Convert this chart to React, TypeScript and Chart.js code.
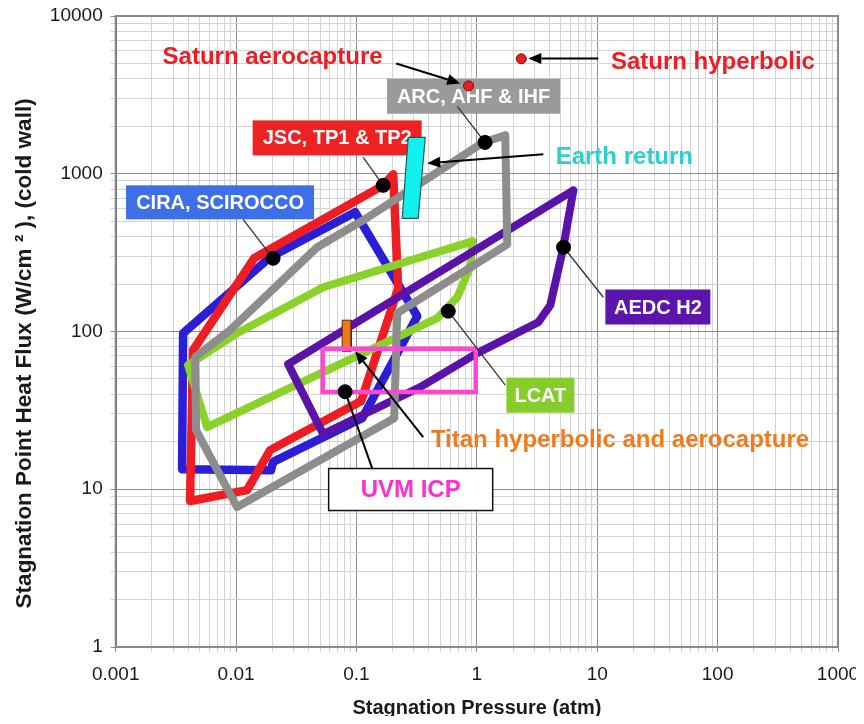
import React, { useEffect, useRef } from 'react';
import { Chart, registerables } from 'chart.js';

Chart.register(...registerables);

const FONT = '"Liberation Sans", Arial, Helvetica, sans-serif';

// Axis decades and their labels
const xTickLabels = ['0.001', '0.01', '0.1', '1', '10', '100', '1000'];
const yTickLabels = ['1', '10', '100', '1000', '10000'];
const xDecadeExp = [-3, -2, -1, 0, 1, 2];
const yDecadeExp = [0, 1, 2, 3];

// Facility envelopes: stagnation pressure (atm) / cold-wall heat flux (W/cm²)
const ciraP = [0.00363, 0.00356, 0.0195, 0.0203, 0.1115, 0.32, 0.0975, 0.0192, 0.00363];
const ciraQ = [97.5, 13.4, 13.2, 14.9, 28.2, 125, 570, 296, 97.5];

const jscP = [0.2019, 0.2221, 0.1094, 0.01917, 0.01234, 0.004146, 0.004392, 0.01411, 0.1667, 0.2019];
const jscQ = [991, 188, 36.2, 17.7, 9.88, 8.42, 76.1, 291, 844, 991];

const arcP = [1.722, 1.789, 0.218, 0.2058, 0.01019, 0.004651, 0.004563, 0.00892, 0.04714, 0.1137, 1.13, 1.722];
const arcQ = [1751, 357, 130.6, 28.2, 7.71, 23.7, 68.8, 101.9, 342, 507, 1581, 1751];

const aedcP = [6.332, 5.226, 4.075, 3.239, 1.008, 0.3385, 0.05288, 0.02706, 6.332];
const aedcQ = [785, 342, 146.7, 114.5, 72.9, 44.4, 22.4, 62.1, 785];

const lcatP = [0.9157, 0.8813, 0.6875, 0.4687, 0.00574, 0.00399, 0.01019, 0.05288, 0.9157];
const lcatQ = [373, 255.4, 164.9, 121.4, 24.8, 61.2, 97.5, 190.8, 373];

// Mission regions
const earthP = [0.269, 0.3725, 0.3257, 0.2399, 0.269];
const earthQ = [1700, 1700, 522, 522, 1700];

const titanP = [0.0761, 0.0904, 0.0904, 0.0761, 0.0761];
const titanQ = [117.9, 117.9, 75, 75, 117.9];

const uvmP = [0.0524, 0.979, 0.979, 0.0524, 0.0524];
const uvmQ = [77.8, 77.8, 41.3, 41.3, 77.8];

// Reference operating points for each facility (CIRA, JSC, ARC, AEDC, LCAT, UVM)
const markerP = [0.0203, 0.1667, 1.17, 5.25, 0.5785, 0.0805];
const markerQ = [291, 844, 1580, 342, 134.5, 41.5];

// Saturn entries (aerocapture, hyperbolic)
const saturnP = [0.853, 2.339];
const saturnQ = [3603, 5356];

const pts = (p: number[], q: number[]) => p.map((v, i) => ({ x: v, y: q[i] }));

const decadeTicks = (exps: number[]) => {
  const out: number[] = [];
  for (const e of exps) {
    for (let k = 1; k <= 9; k++) out.push(parseFloat((k * Math.pow(10, e)).toPrecision(12)));
  }
  out.push(parseFloat(Math.pow(10, exps[exps.length - 1] + 1).toPrecision(12)));
  return out;
};

const isMajor = (v: number) => {
  const l = Math.log10(v);
  return Math.abs(l - Math.round(l)) < 1e-9;
};

// Callout labels placed in data coordinates
const boxLabels = [
  { text: 'CIRA, SCIROCCO', p: 0.00736, q: 659, w: 188, h: 34, fill: '#3e6fe6', color: '#ffffff', size: 20 },
  { text: 'JSC, TP1 & TP2', p: 0.0691, q: 1688, w: 169, h: 35, fill: '#ee2222', color: '#ffffff', size: 20 },
  { text: 'ARC, AHF & IHF', p: 0.939, q: 3100, w: 173, h: 35, fill: '#9a9a9a', color: '#ffffff', size: 20 },
  { text: 'AEDC H2', p: 31.9, q: 143, w: 105, h: 35, fill: '#5c14ac', color: '#ffffff', size: 20 },
  { text: 'LCAT', p: 3.37, q: 39.5, w: 68, h: 35, fill: '#86cc2a', color: '#ffffff', size: 20 },
  { text: 'UVM ICP', p: 0.282, q: 9.96, w: 164, h: 42, fill: '#ffffff', stroke: '#111111', color: '#ff2fcf', size: 24 },
];

const textLabels = [
  { text: 'Saturn aerocapture', p: 0.0201, q: 5483, color: '#ee1c24' },
  { text: 'Saturn hyperbolic', p: 91.4, q: 5098, color: '#ee1c24' },
  { text: 'Earth return', p: 16.8, q: 1276, color: '#2ccfd0' },
  { text: 'Titan hyperbolic and aerocapture', p: 15.47, q: 20.5, color: '#f07a1e' },
];

const leaders = [
  { from: [0.01144, 514], to: [0.0203, 291], width: 1.3, color: '#333333' },
  { from: [0.1137, 1270], to: [0.1667, 844], width: 1.3, color: '#333333' },
  { from: [0.6875, 2672], to: [1.17, 1580], width: 1.3, color: '#333333' },
  { from: [11.24, 164.9], to: [5.25, 342], width: 1.3, color: '#333333' },
  { from: [1.722, 45.7], to: [0.5785, 134.5], width: 1.3, color: '#333333' },
  { from: [0.1351, 13.56], to: [0.0805, 41.5], width: 2, color: '#000000' },
];

const arrows = [
  { from: [0.2138, 5003], to: [0.7278, 3737] },
  { from: [10.21, 5380], to: [2.675, 5380] },
  { from: [3.565, 1327], to: [0.387, 1164] },
  { from: [0.3584, 21.4], to: [0.0975, 75] },
];

const annotate = {
  id: 'annotate',
  beforeDatasetsDraw(chart: any) {
    const { ctx, chartArea: a, scales } = chart;
    const x = scales.x;
    const y = scales.y;
    ctx.save();
    ctx.strokeStyle = '#8a8a8a';
    ctx.lineWidth = 2;
    ctx.strokeRect(a.left, a.top, a.right - a.left, a.bottom - a.top);

    ctx.textAlign = 'center';
    ctx.textBaseline = 'middle';
    for (const b of boxLabels) {
      const cx = x.getPixelForValue(b.p);
      const cy = y.getPixelForValue(b.q);
      ctx.fillStyle = b.fill;
      ctx.fillRect(cx - b.w / 2, cy - b.h / 2, b.w, b.h);
      if (b.stroke) {
        ctx.strokeStyle = b.stroke;
        ctx.lineWidth = 1.5;
        ctx.strokeRect(cx - b.w / 2, cy - b.h / 2, b.w, b.h);
      }
      ctx.fillStyle = b.color;
      ctx.font = `bold ${b.size}px ${FONT}`;
      ctx.fillText(b.text, cx, cy + 1);
    }
    ctx.font = `bold 24px ${FONT}`;
    for (const t of textLabels) {
      ctx.fillStyle = t.color;
      ctx.fillText(t.text, x.getPixelForValue(t.p), y.getPixelForValue(t.q));
    }
    ctx.restore();
  },
  afterDatasetDraw(chart: any, args: any) {
    if (chart.data.datasets[args.index].label !== 'UVM ICP') return;
    const { ctx, scales } = chart;
    const x = scales.x;
    const y = scales.y;
    ctx.save();
    for (const l of leaders) {
      ctx.strokeStyle = l.color;
      ctx.lineWidth = l.width;
      ctx.beginPath();
      ctx.moveTo(x.getPixelForValue(l.from[0]), y.getPixelForValue(l.from[1]));
      ctx.lineTo(x.getPixelForValue(l.to[0]), y.getPixelForValue(l.to[1]));
      ctx.stroke();
    }
    for (const ar of arrows) {
      const x0 = x.getPixelForValue(ar.from[0]);
      const y0 = y.getPixelForValue(ar.from[1]);
      const x1 = x.getPixelForValue(ar.to[0]);
      const y1 = y.getPixelForValue(ar.to[1]);
      const ang = Math.atan2(y1 - y0, x1 - x0);
      const head = 13;
      const hw = 5.5;
      const bx = x1 - head * Math.cos(ang);
      const by = y1 - head * Math.sin(ang);
      ctx.strokeStyle = '#000';
      ctx.lineWidth = 2;
      ctx.beginPath();
      ctx.moveTo(x0, y0);
      ctx.lineTo(bx, by);
      ctx.stroke();
      ctx.fillStyle = '#000';
      ctx.beginPath();
      ctx.moveTo(x1, y1);
      ctx.lineTo(bx + hw * Math.sin(ang), by - hw * Math.cos(ang));
      ctx.lineTo(bx - hw * Math.sin(ang), by + hw * Math.cos(ang));
      ctx.closePath();
      ctx.fill();
    }
    ctx.restore();
  },
};

const envelope = (label: string, p: number[], q: number[], color: string, order: number, width = 8) => ({
  label,
  data: pts(p, q),
  borderColor: color,
  backgroundColor: color,
  borderWidth: width,
  pointRadius: 0,
  showLine: true,
  fill: false,
  tension: 0,
  borderJoinStyle: 'round',
  borderCapStyle: 'round',
  order,
});

const gridColor = (ctx: any) => (ctx.tick && isMajor(ctx.tick.value) ? '#8c8c8c' : '#d3d3d3');

export default function App() {
  const canvasRef = useRef<HTMLCanvasElement | null>(null);

  useEffect(() => {
    if (!canvasRef.current) return;
    Chart.defaults.font.family = FONT;
    const xTicks = decadeTicks(xDecadeExp);
    const yTicks = decadeTicks(yDecadeExp);

    const chart = new Chart(canvasRef.current, {
      type: 'scatter',
      data: {
        datasets: [
          envelope('CIRA, SCIROCCO', ciraP, ciraQ, '#2a1fd6', 9, 8.5),
          envelope('JSC, TP1 & TP2', jscP, jscQ, '#ee1d23', 8, 8.5),
          envelope('LCAT', lcatP, lcatQ, '#8ad12a', 7, 8),
          envelope('AEDC H2', aedcP, aedcQ, '#5a12a8', 6, 8),
          envelope('ARC, AHF & IHF', arcP, arcQ, '#8d8d8d', 5, 8),
          {
            label: 'Earth return',
            data: pts(earthP, earthQ),
            borderColor: '#1e5c5c',
            backgroundColor: '#12f0f0',
            borderWidth: 1.2,
            pointRadius: 0,
            showLine: true,
            fill: 'shape',
            order: 4,
          },
          {
            label: 'Titan hyperbolic and aerocapture',
            data: pts(titanP, titanQ),
            borderColor: '#5a2a00',
            backgroundColor: '#f07818',
            borderWidth: 1,
            pointRadius: 0,
            showLine: true,
            fill: 'shape',
            order: 3,
          },
          {
            label: 'UVM ICP',
            data: pts(uvmP, uvmQ),
            borderColor: '#ff46d2',
            borderWidth: 4.5,
            pointRadius: 0,
            showLine: true,
            fill: false,
            borderJoinStyle: 'miter',
            order: 2,
          },
          {
            label: 'markers',
            data: pts(markerP, markerQ),
            pointRadius: 7,
            pointBackgroundColor: '#000000',
            pointBorderColor: '#000000',
            showLine: false,
            order: 1,
          },
          {
            label: 'Saturn',
            data: pts(saturnP, saturnQ),
            pointRadius: 5,
            pointBackgroundColor: '#ee1c24',
            pointBorderColor: '#7a0a0a',
            pointBorderWidth: 1,
            showLine: false,
            order: 0,
          },
        ] as any,
      },
      options: {
        animation: false,
        responsive: true,
        maintainAspectRatio: false,
        events: [],
        layout: { padding: { top: 7.5, right: 26, left: 0, bottom: 0 } },
        plugins: { legend: { display: false }, tooltip: { enabled: false } },
        scales: {
          x: {
            type: 'logarithmic',
            min: 0.001,
            max: 1000,
            afterBuildTicks: (s: any) => {
              s.ticks = xTicks.map((v) => ({ value: v }));
            },
            afterFit: (s: any) => {
              s.height = 69;
              s.paddingLeft = 0;
              s.paddingRight = 0;
            },
            ticks: {
              autoSkip: false,
              maxRotation: 0,
              padding: 11,
              color: '#1a1a1a',
              font: { size: 19 },
              callback: (v: any) => (isMajor(v) ? xTickLabels[Math.round(Math.log10(v)) + 3] : ''),
            },
            grid: { color: gridColor, tickLength: 5, lineWidth: 1 },
            border: { color: '#555555', width: 2 },
            title: {
              display: true,
              text: 'Stagnation Pressure (atm)',
              color: '#1a1a1a',
              font: { size: 20, weight: 'bold', lineHeight: 0.8 },
              padding: { top: 0, bottom: 0 },
            },
          },
          y: {
            type: 'logarithmic',
            min: 1,
            max: 10000,
            afterBuildTicks: (s: any) => {
              s.ticks = yTicks.map((v) => ({ value: v }));
            },
            afterFit: (s: any) => {
              s.width = 107.7;
              s.paddingTop = 0;
              s.paddingBottom = 0;
            },
            ticks: {
              autoSkip: false,
              padding: 8,
              color: '#1a1a1a',
              font: { size: 19 },
              callback: (v: any) => (isMajor(v) ? yTickLabels[Math.round(Math.log10(v))] : ''),
            },
            grid: { color: gridColor, tickLength: 5, lineWidth: 1 },
            border: { color: '#555555', width: 2 },
            title: {
              display: true,
              // trailing spaces nudge the centred title toward the lower decades
              text: 'Stagnation Point Heat Flux (W/cm ² ), (cold wall)       ',
              color: '#1a1a1a',
              font: { size: 22.5, weight: 'bold', lineHeight: 1 },
              padding: { top: 6, bottom: 0 },
            },
          },
        },
      },
      plugins: [annotate],
    } as any);

    return () => chart.destroy();
  }, []);

  return (
    <div style={{ position: 'relative', width: '856px', height: '708px' }}>
      <canvas ref={canvasRef} />
    </div>
  );
}
